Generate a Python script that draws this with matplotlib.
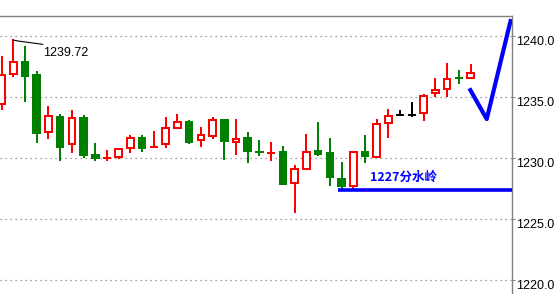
import matplotlib
matplotlib.use("Agg")
import matplotlib.pyplot as plt
from matplotlib.ticker import FixedLocator, FormatStrFormatter

# OHLC, one row per candle, oldest first
opens = [1234.43, 1236.89, 1237.87, 1236.81, 1232.14, 1233.34, 1231.13, 1233.26,
         1230.26, 1229.98, 1230.12, 1230.81, 1231.63, 1230.88, 1231.13, 1232.49,
         1232.93, 1231.46, 1231.79, 1233.12, 1231.35, 1231.65, 1230.49, 1230.39,
         1230.50, 1227.94, 1229.09, 1230.59, 1230.42, 1228.29, 1227.74, 1230.50,
         1230.07, 1232.85, 1233.51, 1233.51, 1233.67, 1235.31, 1235.64, 1236.55,
         1236.54]
highs = [1238.36, 1239.72, 1239.18, 1237.13, 1234.27, 1233.61, 1233.94, 1233.53,
         1231.24, 1230.67, 1230.72, 1231.90, 1231.90, 1232.22, 1233.39, 1233.61,
         1233.12, 1232.53, 1233.34, 1233.20, 1233.20, 1232.14, 1231.49, 1231.32,
         1231.00, 1229.44, 1231.98, 1232.96, 1231.65, 1229.68, 1230.59, 1231.90,
         1233.20, 1234.02, 1233.94, 1234.60, 1235.25, 1236.56, 1237.79, 1237.22,
         1237.71]
lows = [1233.94, 1236.67, 1234.57, 1231.27, 1231.59, 1229.77, 1230.40, 1230.04,
        1229.79, 1229.79, 1229.91, 1230.45, 1230.53, 1230.81, 1230.86, 1232.39,
        1231.18, 1230.94, 1231.54, 1229.85, 1230.26, 1229.58, 1230.20, 1229.79,
        1227.91, 1225.53, 1229.09, 1230.20, 1227.72, 1227.39, 1227.50, 1229.63,
        1230.07, 1231.67, 1233.51, 1233.37, 1233.07, 1234.98, 1234.98, 1236.05,
        1236.54]
closes = [1236.81, 1237.85, 1236.75, 1232.08, 1233.43, 1230.94, 1233.26, 1230.26,
          1230.04, 1230.00, 1230.72, 1231.63, 1230.86, 1230.90, 1232.44, 1232.93,
          1231.35, 1231.90, 1233.10, 1231.43, 1231.54, 1230.61, 1230.47, 1230.41,
          1227.91, 1229.11, 1230.50, 1230.36, 1228.48, 1227.74, 1230.50, 1230.20,
          1232.77, 1233.45, 1233.51, 1233.51, 1235.06, 1235.58, 1236.46, 1236.53,
          1236.95]

price_ticks = [1220.0, 1225.0, 1230.0, 1235.0, 1240.0]
high_label = "1239.72"
watershed = 1227.4
watershed_label = "1227分水岭"
# hand-drawn V on the right side of the chart (bar index, price)
arrow_x = [39.9, 41.38, 43.45]
arrow_y = [1235.72, 1233.20, 1241.39]

UP = "#ff0000"
DOWN = "#008000"
LW = 1.44

fig = plt.figure(figsize=(5.54, 2.94), dpi=100)
ax = fig.add_axes([0, 0, 511.7 / 554, 278 / 294])

for i, (o, h, l, c) in enumerate(zip(opens, highs, lows, closes)):
    if c > o:
        col = UP
    elif c < o:
        col = DOWN
    else:
        col = "black"
    ax.vlines(i, l, h, color=col, lw=LW, zorder=2)
    if abs(c - o) < 0.05:
        ax.hlines((o + c) / 2, i - 0.36, i + 0.36, color=col, lw=LW, zorder=3)
    elif c > o:
        ax.bar(i, c - o, bottom=o, width=0.56, facecolor="white",
               edgecolor=col, linewidth=LW, zorder=3)
    else:
        ax.bar(i, o - c, bottom=c, width=0.56, facecolor=col,
               edgecolor=col, linewidth=LW, zorder=3)

# label on the high
ax.plot([1.0, 1.43, 3.51], [1239.67, 1239.59, 1239.32], color="black", lw=0.8, zorder=4)
ax.text(3.54, 1238.61, high_label, ha="left", va="center", fontsize=9,
        family="Liberation Sans", color="black")

# 1227 line
ax.hlines(watershed, 28.7, 43.6, color="#0000ff", lw=2.6, zorder=5)
ax.text(31.45, 1228.46, watershed_label, ha="left", va="center", fontsize=9,
        family=["Noto Sans CJK SC", "DejaVu Sans"], fontweight="bold",
        color="#0000ff")

ax.plot(arrow_x, arrow_y, color="#0000ff", lw=3, solid_capstyle="butt", zorder=5)

ax.set_xlim(-0.128, 43.51)
ax.set_ylim(1218.88, 1241.64)

ax.yaxis.tick_right()
ax.yaxis.set_major_locator(FixedLocator(price_ticks))
ax.yaxis.set_major_formatter(FormatStrFormatter("%.1f"))
ax.tick_params(axis="y", length=2, width=0.7, color="#808080", pad=1.5,
               labelsize=9)
for lbl in ax.get_yticklabels():
    lbl.set_family("Liberation Sans")
    lbl.set_verticalalignment("top")
ax.set_xticks([])
ax.grid(axis="y", color="#808080", linestyle=(0, (1, 3)), linewidth=0.9)
ax.set_axisbelow(True)

for side in ["left", "bottom"]:
    ax.spines[side].set_visible(False)
for side in ["top", "right"]:
    ax.spines[side].set_color("#808080")
    ax.spines[side].set_linewidth(1.0)

fig.savefig("out.png", dpi=100)
